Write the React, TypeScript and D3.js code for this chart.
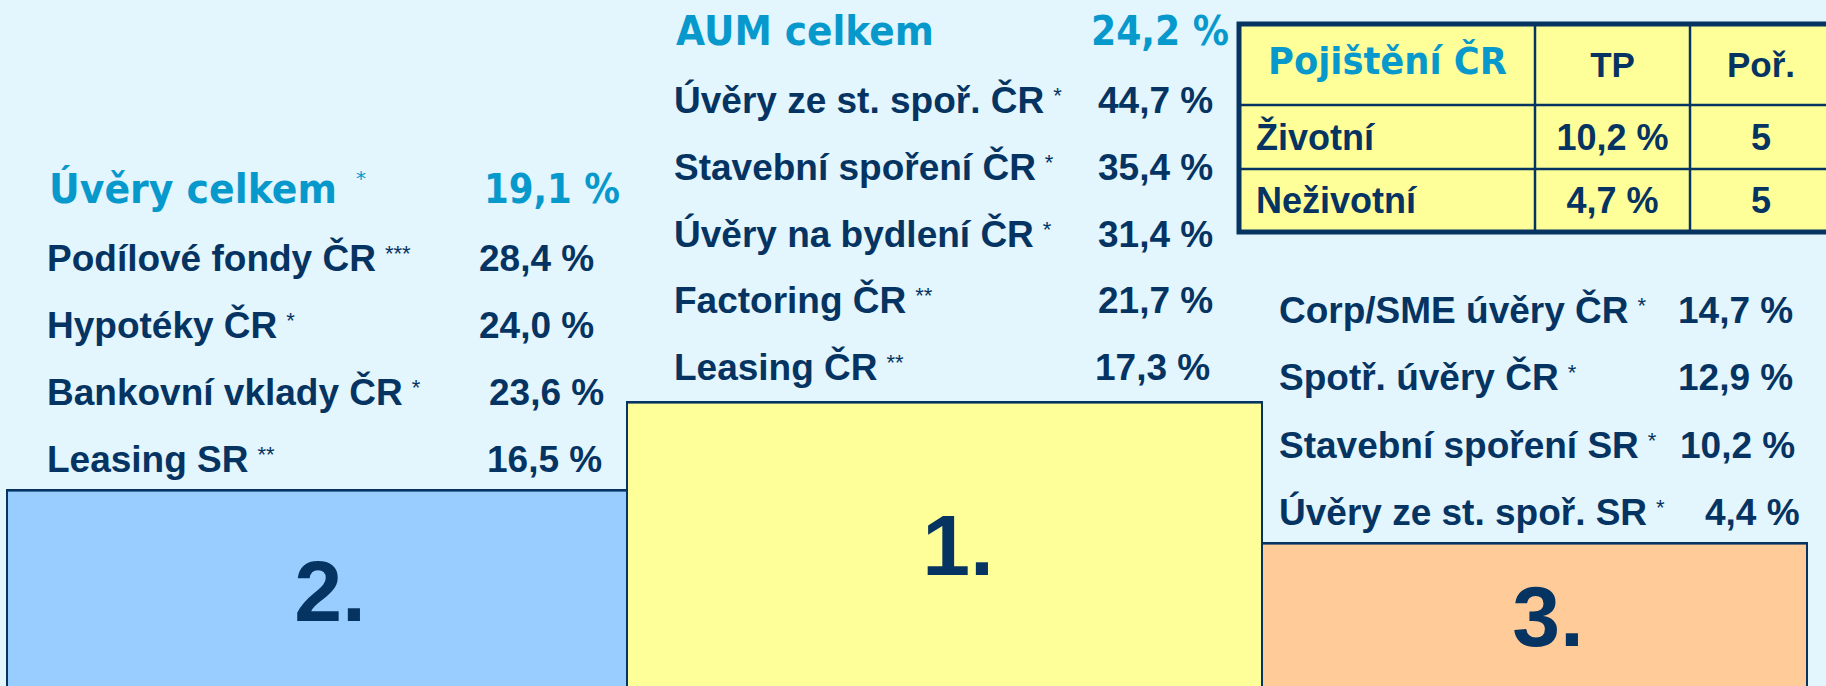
import React, { useLayoutEffect, useRef, useState } from "react";
import * as d3 from "d3";

const W = 1826;
const H = 686;

// ---------- data ----------
const podiumPlaces = ["2.", "1.", "3."];

const silverTitle = "Úvěry celkem";
const silverTitleStar = "*";
const silverTotal = 19.1;
const silverLabels = ["Podílové fondy ČR", "Hypotéky ČR", "Bankovní vklady ČR", "Leasing SR"];
const silverStars = ["***", "*", "*", "**"];
const silverValues = [28.4, 24.0, 23.6, 16.5];

const goldTitle = "AUM celkem";
const goldTotal = 24.2;
const goldLabels = ["Úvěry ze st. spoř. ČR", "Stavební spoření ČR", "Úvěry na bydlení ČR", "Factoring ČR", "Leasing ČR"];
const goldStars = ["*", "*", "*", "**", "**"];
const goldValues = [44.7, 35.4, 31.4, 21.7, 17.3];

const bronzeLabels = ["Corp/SME úvěry ČR", "Spotř. úvěry ČR", "Stavební spoření SR", "Úvěry ze st. spoř. SR"];
const bronzeStars = ["*", "*", "*", "*"];
const bronzeValues = [14.7, 12.9, 10.2, 4.4];

const insuranceTitle = "Pojištění ČR";
const insuranceColumns = ["TP", "Poř."];
const insuranceRows = ["Životní", "Neživotní"];
const insuranceShares = [10.2, 4.7];
const insuranceRanks = [5, 5];

// ---------- style / layout ----------
const BG = "#e3f5fd";
const NAVY = "#063462";
const CYAN = "#0799cc";
const FILLS = ["#99ccff", "#ffff99", "#ffcc99"];
const ARIAL = "'Liberation Sans', Arial, sans-serif";
const TAHOMA = "'DejaVu Sans', Verdana, sans-serif";

const loc = d3.formatLocale({ decimal: ",", thousands: " ", grouping: [3], currency: ["", ""] });
const f1 = loc.format(".1f");
const pct = (v: number) => `${f1(v)} %`;

const podiumLayout = [
  { x0: 7, x1: 627, top: 490, numX: 330, numY: 621 },
  { x0: 627, x1: 1262, top: 402, numX: 958, numY: 575 },
  { x0: 1262, x1: 1807, top: 543, numX: 1548, numY: 646 },
];

function Rows({ labels, stars, values, labelX, valueX, y0, y1 }: any) {
  const y = d3.scaleLinear().domain([0, labels.length - 1]).range([y0, y1]);
  return (
    <g>
      {labels.map((l: string, i: number) => (
        <g key={l}>
          <text x={labelX} y={y(i)} fontFamily={ARIAL} fontWeight={700} fontSize={37} fill={NAVY}>
            {l}
            <tspan dx={9} dy={-10} fontSize={22} fontWeight={400}>{stars[i]}</tspan>
          </text>
          <text x={valueX[i]} y={y(i)} fontFamily={ARIAL} fontWeight={700} fontSize={37} fill={NAVY}>
            {pct(values[i])}
          </text>
        </g>
      ))}
    </g>
  );
}

function Heading({ x, y, text, len, size = 41 }: any) {
  const ref = useRef<SVGTextElement>(null);
  const [sx, setSx] = useState(0.9);
  useLayoutEffect(() => {
    if (ref.current) {
      const w = ref.current.getComputedTextLength();
      if (w > 0) setSx(len / w);
    }
  }, [text, len, size]);
  return (
    <text ref={ref} transform={`translate(${x},${y}) scale(${sx},1)`} fontFamily={TAHOMA} fontWeight={700}
      fontSize={size} fill={CYAN}>{text}</text>
  );
}

export default function App() {
  // table geometry
  const tX0 = 1239, tX1 = 1832, tY0 = 24, tY1 = 232;
  const colX = [tX0, 1535, 1690, tX1];
  const rowY = [tY0, 105, 169, tY1];
  const colCenter = (c: number) => (colX[c] + colX[c + 1]) / 2;

  return (
    <svg width={W} height={H} style={{ position: "absolute", left: 0, top: 0, display: "block" }}>
      <rect x={0} y={0} width={W} height={H} fill={BG} />

      {/* podium */}
      {podiumPlaces.map((p, i) => {
        const b = podiumLayout[i];
        return (
          <g key={p}>
            <rect x={b.x0} y={b.top} width={b.x1 - b.x0} height={H - b.top + 4} fill={FILLS[i]} stroke={NAVY} strokeWidth={2} />
            <line x1={b.x0} x2={b.x1} y1={b.top + 0.5} y2={b.top + 0.5} stroke={NAVY} strokeWidth={2.5} opacity={0.8} />
            <text x={b.numX} y={b.numY} textAnchor="middle" fontFamily={ARIAL} fontWeight={700} fontSize={86} fill={NAVY}>{p}</text>
          </g>
        );
      })}

      {/* silver column */}
      <Heading x={49} y={203} text={silverTitle} len={288} />
      <text x={356} y={185} fontFamily={TAHOMA} fontSize={20} fill={CYAN}>{silverTitleStar}</text>
      <Heading x={484} y={203} text={pct(silverTotal)} len={136} />
      <Rows labels={silverLabels} stars={silverStars} values={silverValues} labelX={47}
        valueX={[479, 479, 489, 487]} y0={271} y1={472} />

      {/* gold column */}
      <Heading x={676} y={45} text={goldTitle} len={258} />
      <Heading x={1091} y={45} text={pct(goldTotal)} len={138} />
      <Rows labels={goldLabels} stars={goldStars} values={goldValues} labelX={674}
        valueX={[1098, 1098, 1098, 1098, 1095]} y0={113} y1={380} />

      {/* bronze column */}
      <Rows labels={bronzeLabels} stars={bronzeStars} values={bronzeValues} labelX={1279}
        valueX={[1678, 1678, 1680, 1705]} y0={323} y1={525} />

      {/* insurance table */}
      <g>
        <rect x={tX0} y={tY0} width={tX1 - tX0} height={tY1 - tY0} fill="#ffff99" stroke={NAVY} strokeWidth={5} />
        {colX.slice(1, 3).map((x, i) => (
          <line key={"c" + i} x1={x} x2={x} y1={tY0} y2={tY1} stroke={NAVY} strokeWidth={2.5} />
        ))}
        {rowY.slice(1, 3).map((y, i) => (
          <line key={"r" + i} x1={tX0} x2={tX1} y1={y} y2={y} stroke={NAVY} strokeWidth={2.5} />
        ))}
        <Heading x={1268} y={74} text={insuranceTitle} len={239} size={37} />
        {insuranceColumns.map((c, i) => (
          <text key={c} x={colCenter(i + 1)} y={77} textAnchor="middle" fontFamily={ARIAL} fontWeight={700} fontSize={35} fill={NAVY}>{c}</text>
        ))}
        {insuranceRows.map((r, i) => {
          const y = [150, 213][i];
          return (
            <g key={r}>
              <text x={1256} y={y} fontFamily={ARIAL} fontWeight={700} fontSize={36} fill={NAVY}>{r}</text>
              <text x={colCenter(1)} y={y} textAnchor="middle" fontFamily={ARIAL} fontWeight={700} fontSize={36} fill={NAVY}>{pct(insuranceShares[i])}</text>
              <text x={colCenter(2)} y={y} textAnchor="middle" fontFamily={ARIAL} fontWeight={700} fontSize={36} fill={NAVY}>{insuranceRanks[i]}</text>
            </g>
          );
        })}
      </g>
    </svg>
  );
}
